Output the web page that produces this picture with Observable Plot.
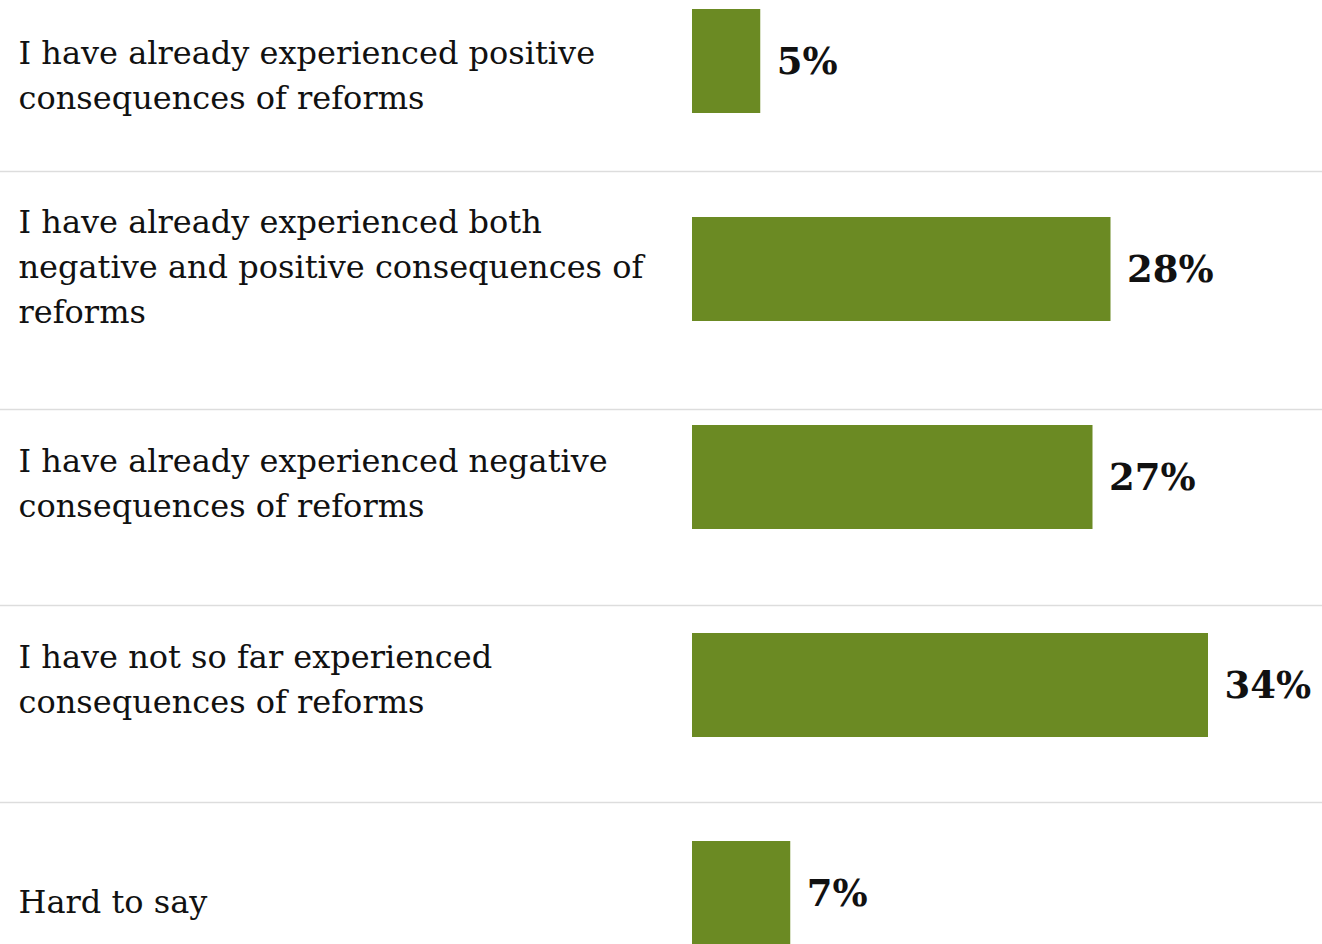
<!DOCTYPE html>
<html>
<head>
<meta charset="utf-8">
<script src="https://cdn.jsdelivr.net/npm/d3@7"></script>
<script src="https://cdn.jsdelivr.net/npm/@observablehq/plot@0.6"></script>
<style>
  html, body { margin: 0; padding: 0; background: #fff; overflow: hidden; }
  #chart svg { display: block; }
</style>
</head>
<body>
<div id="chart"></div>
<script>
// --- Data ---
const categories = [
  "I have already experienced positive\nconsequences of reforms",
  "I have already experienced both\nnegative and positive consequences of\nreforms",
  "I have already experienced negative\nconsequences of reforms",
  "I have not so far experienced\nconsequences of reforms",
  "Hard to say"
];
const values = [4.55, 27.9, 26.7, 34.4, 6.55];
const valueLabels = ["5%", "28%", "27%", "34%", "7%"];

// --- Layout (not data) ---
const labelDy = [10.5, -6, 2.5, -9, 5];        // vertical offset of each label block from its bar centre
const separatorDy = [-98, -68, -80, -91];      // separator above rows 2..5, from the bar centre

const rows = categories.map((c, i) => ({category: c, value: values[i], label: valueLabels[i]}));

const font = "DejaVu Serif";
const marks = [
  Plot.barX(rows, {y: "category", x: "value", fill: "#6b8a23"}),
  Plot.text(rows, {
    y: "category", x: "value", text: "label",
    textAnchor: "start", dx: 16, dy: 1, fontWeight: "bold", fontSize: 37, fill: "#111",
    fontFamily: font
  })
];
rows.forEach((r, i) => {
  marks.push(Plot.text([r], {
    y: "category", frameAnchor: "left", text: "category",
    textAnchor: "start", dx: -674, dy: labelDy[i], lineAnchor: "middle",
    fontSize: 32, lineHeight: 45 / 32, fill: "#111", fontFamily: font
  }));
});
rows.slice(1).forEach((r, i) => {
  marks.push(Plot.ruleY([r], {y: "category", dy: separatorDy[i], stroke: "#dddddd", strokeWidth: 1.5}));
});

const chart = Plot.plot({
  width: 1322,
  height: 954,
  marginLeft: 692,
  marginRight: 30,
  marginTop: 0,
  marginBottom: 0,
  style: {fontFamily: font, background: "#fff", overflow: "visible"},
  x: {domain: [0, 40], axis: null},
  y: {domain: categories, axis: null, paddingInner: 0.5, paddingOuter: 0.0384},
  marks
});
// separators span the full width
d3.select(chart).selectAll("g[aria-label='rule'] line").attr("x1", 0).attr("x2", 1322);
document.getElementById("chart").appendChild(chart);
</script>
</body>
</html>
